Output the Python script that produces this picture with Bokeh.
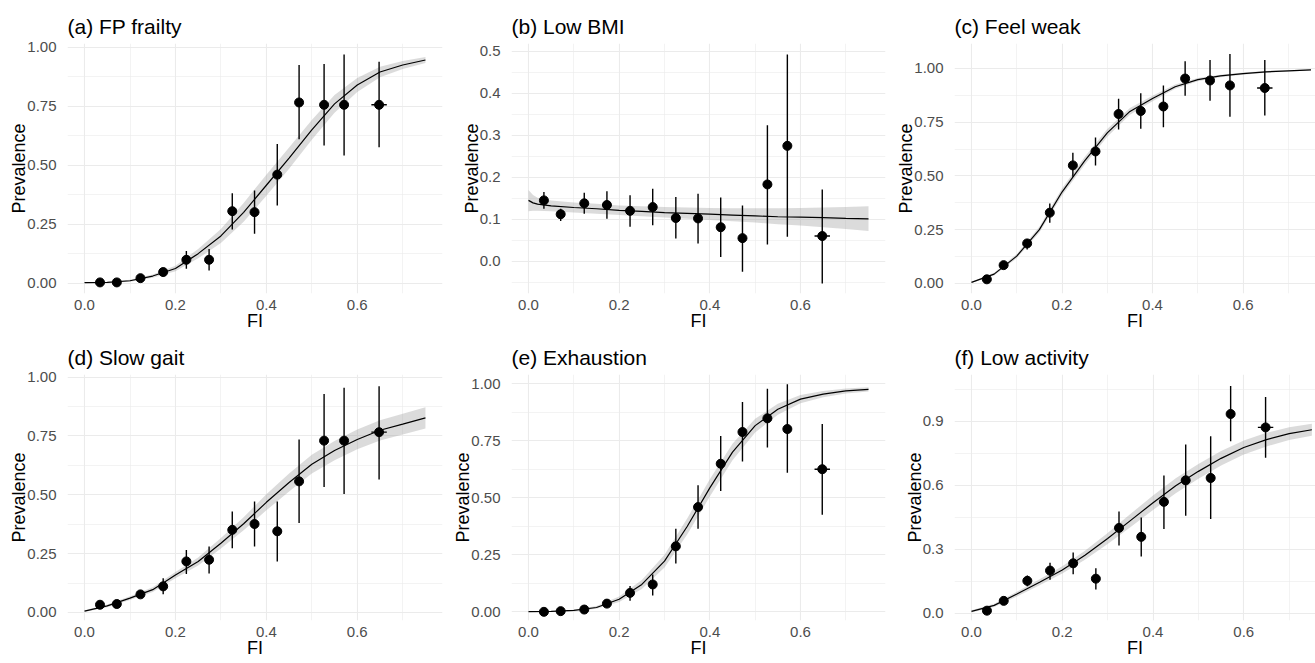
import numpy as np
from bokeh.plotting import figure
from bokeh.models import Range1d, FixedTicker, NumeralTickFormatter
from bokeh.layouts import gridplot
from bokeh.embed import file_html
from bokeh.resources import INLINE

# ---------------- data ----------------
fi_bins = [0.034, 0.071, 0.123, 0.173, 0.224, 0.274, 0.325, 0.374, 0.424, 0.472, 0.527, 0.571, 0.648]
fi_err = [0.006, 0.006, 0.006, 0.006, 0.006, 0.006, 0.006, 0.006, 0.006, 0.006, 0.006, 0.006, 0.017]

curve_x = [0.0, 0.05, 0.10, 0.15, 0.20, 0.25, 0.30, 0.35, 0.40, 0.45, 0.50, 0.55, 0.60, 0.65, 0.70, 0.75]

# (a) FP frailty
a_prev = [0.003, 0.003, 0.021, 0.047, 0.099, 0.099, 0.305, 0.301, 0.460, 0.766, 0.756, 0.756, 0.756]
a_lo = [0.000, 0.000, 0.012, 0.028, 0.061, 0.054, 0.227, 0.209, 0.329, 0.610, 0.583, 0.541, 0.576]
a_hi = [0.008, 0.009, 0.030, 0.062, 0.136, 0.145, 0.381, 0.393, 0.590, 0.925, 0.929, 0.969, 0.939]
a_fit = [0.002, 0.003, 0.010, 0.030, 0.062, 0.125, 0.200, 0.300, 0.415, 0.530, 0.650, 0.760, 0.840, 0.895, 0.925, 0.946]
a_band = [0.002, 0.002, 0.004, 0.007, 0.012, 0.020, 0.030, 0.040, 0.045, 0.045, 0.042, 0.038, 0.030, 0.022, 0.017, 0.013]

# (b) Low BMI
b_prev = [0.145, 0.112, 0.138, 0.134, 0.120, 0.129, 0.103, 0.102, 0.081, 0.055, 0.183, 0.275, 0.060]
b_lo = [0.125, 0.096, 0.113, 0.101, 0.082, 0.086, 0.054, 0.042, 0.010, -0.025, 0.040, 0.058, -0.053]
b_hi = [0.165, 0.125, 0.163, 0.167, 0.157, 0.173, 0.153, 0.161, 0.152, 0.133, 0.324, 0.493, 0.171]
b_curve_x = [0.0, 0.01, 0.02, 0.05, 0.10, 0.15, 0.20, 0.25, 0.30, 0.35, 0.40, 0.45, 0.50, 0.55, 0.60, 0.65, 0.70, 0.75]
b_fit = [0.145, 0.139, 0.136, 0.132, 0.128, 0.125, 0.121, 0.119, 0.116, 0.114, 0.112, 0.110, 0.108, 0.106, 0.105, 0.104, 0.102, 0.101]
b_band_lo = [0.119, 0.120, 0.120, 0.119, 0.116, 0.113, 0.110, 0.107, 0.104, 0.101, 0.098, 0.095, 0.092, 0.088, 0.085, 0.081, 0.077, 0.072]
b_band_hi = [0.170, 0.158, 0.151, 0.145, 0.140, 0.137, 0.133, 0.131, 0.129, 0.128, 0.127, 0.126, 0.126, 0.126, 0.127, 0.128, 0.129, 0.131]

# (c) Feel weak
c_prev = [0.019, 0.085, 0.186, 0.329, 0.549, 0.614, 0.788, 0.802, 0.823, 0.953, 0.944, 0.921, 0.909]
c_lo = [0.008, 0.070, 0.158, 0.282, 0.496, 0.549, 0.716, 0.719, 0.726, 0.873, 0.850, 0.775, 0.781]
c_hi = [0.030, 0.100, 0.205, 0.372, 0.608, 0.679, 0.859, 0.884, 0.921, 1.034, 1.039, 1.067, 1.039]
c_fit = [0.005, 0.043, 0.127, 0.250, 0.425, 0.570, 0.700, 0.800, 0.860, 0.915, 0.948, 0.965, 0.976, 0.984, 0.989, 0.993]
c_band = [0.003, 0.006, 0.010, 0.013, 0.016, 0.018, 0.018, 0.016, 0.013, 0.010, 0.008, 0.006, 0.005, 0.004, 0.003, 0.003]

# (d) Slow gait
d_prev = [0.033, 0.036, 0.077, 0.111, 0.217, 0.224, 0.351, 0.376, 0.345, 0.557, 0.730, 0.730, 0.766]
d_lo = [0.022, 0.024, 0.062, 0.078, 0.164, 0.166, 0.273, 0.280, 0.217, 0.380, 0.533, 0.503, 0.565]
d_hi = [0.044, 0.048, 0.092, 0.145, 0.266, 0.280, 0.429, 0.471, 0.471, 0.735, 0.928, 0.955, 0.961]
d_fit = [0.006, 0.028, 0.061, 0.097, 0.159, 0.217, 0.294, 0.377, 0.468, 0.552, 0.630, 0.688, 0.735, 0.774, 0.800, 0.827]
d_band = [0.004, 0.006, 0.008, 0.010, 0.013, 0.017, 0.022, 0.028, 0.034, 0.038, 0.040, 0.041, 0.042, 0.043, 0.044, 0.045]

# (e) Exhaustion
e_prev = [0.000, 0.003, 0.010, 0.036, 0.083, 0.120, 0.287, 0.459, 0.649, 0.788, 0.848, 0.801, 0.625]
e_lo = [0.000, 0.000, 0.004, 0.022, 0.048, 0.072, 0.212, 0.364, 0.529, 0.659, 0.720, 0.609, 0.425]
e_hi = [0.004, 0.008, 0.018, 0.050, 0.113, 0.164, 0.364, 0.555, 0.770, 0.920, 0.978, 0.997, 0.823]
e_fit = [0.001, 0.002, 0.006, 0.019, 0.055, 0.120, 0.222, 0.374, 0.543, 0.700, 0.816, 0.888, 0.932, 0.954, 0.968, 0.975]
e_band = [0.001, 0.001, 0.003, 0.006, 0.012, 0.020, 0.028, 0.035, 0.038, 0.036, 0.030, 0.024, 0.018, 0.014, 0.011, 0.009]

# (f) Low activity
f_prev = [0.012, 0.058, 0.152, 0.200, 0.234, 0.162, 0.400, 0.358, 0.522, 0.623, 0.634, 0.934, 0.871]
f_lo = [0.004, 0.045, 0.126, 0.157, 0.183, 0.111, 0.318, 0.266, 0.395, 0.457, 0.442, 0.806, 0.729]
f_hi = [0.020, 0.071, 0.177, 0.237, 0.285, 0.211, 0.477, 0.449, 0.646, 0.791, 0.829, 1.065, 1.014]
f_fit = [0.009, 0.037, 0.090, 0.145, 0.203, 0.272, 0.350, 0.434, 0.518, 0.598, 0.665, 0.726, 0.777, 0.814, 0.842, 0.860]
f_band = [0.005, 0.008, 0.011, 0.014, 0.017, 0.021, 0.026, 0.031, 0.034, 0.035, 0.035, 0.034, 0.033, 0.032, 0.030, 0.028]

x_ticks = [0.0, 0.2, 0.4, 0.6]
x_minor = [0.1, 0.3, 0.5, 0.7]
y_ticks_q = [0.0, 0.25, 0.5, 0.75, 1.0]
y_minor_q = [0.125, 0.375, 0.625, 0.875]
y_ticks_b = [0.0, 0.1, 0.2, 0.3, 0.4, 0.5]
y_minor_b = [-0.05, 0.05, 0.15, 0.25, 0.35, 0.45]
y_ticks_f = [0.0, 0.3, 0.6, 0.9]
y_minor_f = [0.15, 0.45, 0.75, 1.05]

FONT = "Liberation Sans"
GRID = "#EBEBEB"


def panel(title, prev, lo, hi, cx, fit, band_lo, band_hi, yr, yt, ym, fmt,
          width, height, bl, br, bt, bb, x_end):
    p = figure(width=width, height=height, output_backend="svg", toolbar_location=None,
               x_range=Range1d(-0.0375, x_end), y_range=Range1d(*yr),
               min_border_left=bl, min_border_right=br, min_border_top=bt, min_border_bottom=bb)
    p.outline_line_color = None
    p.background_fill_color = "white"
    p.border_fill_color = "white"

    p.title.text = title
    p.title.text_font = FONT
    p.title.text_font_size = "21px"
    p.title.text_font_style = "normal"
    p.title.text_color = "black"
    p.title.align = "left"
    p.title.offset = 0
    p.title.standoff = 12

    p.xaxis.ticker = FixedTicker(ticks=x_ticks, minor_ticks=x_minor)
    p.yaxis.ticker = FixedTicker(ticks=yt, minor_ticks=ym)
    p.xaxis.formatter = NumeralTickFormatter(format="0.0")
    p.yaxis.formatter = NumeralTickFormatter(format=fmt)
    p.xaxis.axis_label = "FI"
    p.yaxis.axis_label = "Prevalence"
    for ax in (p.xaxis, p.yaxis):
        ax.axis_line_color = None
        ax.major_tick_line_color = None
        ax.minor_tick_line_color = None
        ax.major_label_text_font = FONT
        ax.major_label_text_font_size = "15px"
        ax.major_label_text_color = "#4D4D4D"
        ax.axis_label_text_font = FONT
        ax.axis_label_text_font_size = "18px"
        ax.axis_label_text_font_style = "normal"
        ax.axis_label_text_color = "black"
    p.xaxis.major_label_standoff = 0
    p.xaxis.axis_label_standoff = -2
    p.yaxis.major_label_standoff = 5
    p.yaxis.axis_label_standoff = -5
    for g in (p.xgrid, p.ygrid):
        g.grid_line_color = GRID
        g.grid_line_width = 1.1
        g.minor_grid_line_color = GRID
        g.minor_grid_line_width = 0.6

    fx = np.array(fi_bins)
    fe = np.array(fi_err)
    p.varea(x=cx, y1=band_lo, y2=band_hi, fill_color="#999999", fill_alpha=0.35)
    p.line(cx, fit, line_color="black", line_width=1.2)
    p.segment(x0=fx, y0=lo, x1=fx, y1=hi, line_color="black", line_width=1.4)
    p.segment(x0=fx - fe, y0=prev, x1=fx + fe, y1=prev, line_color="black", line_width=1.4)
    p.scatter(fx, prev, size=9, color="black")
    return p


def sym(fit, band):
    f = np.array(fit)
    b = np.array(band)
    return f - b, f + b


H1, H2 = 336, 327
W1, W2, W3 = 448, 443, 424
BT1, BT2, BB = 43, 38, 43
X_END = 0.7875

alo, ahi = sym(a_fit, a_band)
clo, chi = sym(c_fit, c_band)
dlo, dhi = sym(d_fit, d_band)
elo, ehi = sym(e_fit, e_band)
flo, fhi = sym(f_fit, f_band)

pa = panel("(a) FP frailty", a_prev, a_lo, a_hi, curve_x, a_fit, alo, ahi,
           (-0.044, 1.016), y_ticks_q, y_minor_q, "0.00", W1, H1, 67, 6, BT1, BB, X_END)
pb = panel("(b) Low BMI", b_prev, b_lo, b_hi, b_curve_x, b_fit, b_band_lo, b_band_hi,
           (-0.077, 0.519), y_ticks_b, y_minor_b, "0.0", W2, H1, 54, 6, BT1, BB, X_END)
pc = panel("(c) Feel weak", c_prev, c_lo, c_hi, curve_x, c_fit, clo, chi,
           (-0.047, 1.116), y_ticks_q, y_minor_q, "0.00", W3, H1, 63, 0, BT1, BB, 0.760)
pd = panel("(d) Slow gait", d_prev, d_lo, d_hi, curve_x, d_fit, dlo, dhi,
           (-0.034, 1.011), y_ticks_q, y_minor_q, "0.00", W1, H2, 67, 6, BT2, BB, X_END)
pe = panel("(e) Exhaustion", e_prev, e_lo, e_hi, curve_x, e_fit, elo, ehi,
           (-0.038, 1.040), y_ticks_q, y_minor_q, "0.00", W2, H2, 63, 6, BT2, BB, X_END)
pf = panel("(f) Low activity", f_prev, f_lo, f_hi, curve_x, f_fit, flo, fhi,
           (-0.034, 1.119), y_ticks_f, y_minor_f, "0.0", W3, H2, 54, 0, BT2, BB, 0.758)

grid = gridplot([[pa, pb, pc], [pd, pe, pf]], toolbar_location=None)

open("out.html", "w").write(file_html(grid, INLINE))
